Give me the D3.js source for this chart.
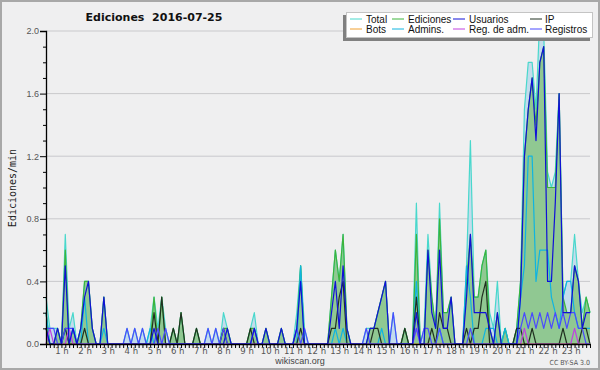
<!DOCTYPE html>
<html>
<head>
<meta charset="utf-8">
<script src="https://cdn.jsdelivr.net/npm/d3@7"></script>
<style>
  body { margin: 0; background: #fff; }
  svg { display: block; }
  .tick text { fill: #555; }
</style>
</head>
<body>
<div></div>
<script>
const width = 600, height = 370;

// 10-minute buckets from 00:20 to 23:50 (edits per minute)
const total = [
  .3,.1,.1,.1,0,.7,.1,.2,0,.1,
  .4,.4,.1,0,0,.3,0,0,0,0,
  0,.1,0,.1,0,.1,0,.1,.3,.1,
  .3,.1,0,.1,0,.2,0,0,0,.1,
  0,0,.1,0,.1,0,.2,.1,0,0,
  0,0,0,.1,.2,0,0,.1,0,0,
  0,.1,0,0,0,.2,.5,.1,0,0,
  0,0,0,0,.3,.6,.4,.7,.1,0,
  0,0,0,.1,.1,.1,.2,.3,.4,0,
  .2,0,0,.1,0,0,.9,0,.1,.7,
  .3,.1,.9,.2,.2,.3,0,0,0,.5,
  1.3,.3,.3,.5,.6,.2,.1,.4,0,.1,
  0,0,.1,.4,1.5,1.8,1.8,1.5,2.1,2.0,
  1.1,1.0,1.1,1.6,.3,.4,.4,.7,.4,.2,
  .3,.2
];
const ediciones = [
  .2,0,0,.1,0,.6,0,.1,0,.1,
  .4,.4,.1,0,0,.3,0,0,0,0,
  0,0,0,0,0,0,0,0,.3,0,
  .3,0,0,.1,0,.2,0,0,0,.1,
  0,0,0,0,0,0,.1,.1,0,0,
  0,0,0,.1,.1,0,0,.1,0,0,
  0,.1,0,0,0,.1,.5,0,0,0,
  0,0,0,0,.3,.6,.4,.7,.1,0,
  0,0,0,0,.1,.1,.2,.3,.4,0,
  0,0,0,.1,0,0,.7,0,0,.6,
  .3,.1,.8,.2,.2,.3,0,0,0,.4,
  .7,.3,.3,.5,.6,.1,0,.2,0,.1,
  0,0,.1,.4,1.2,1.5,1.7,1.4,1.8,1.9,
  1.0,1.0,1.0,1.6,.3,.2,.2,.5,.4,.1,
  .3,.2
];
const usuarios = [
  .1,0,0,.1,0,.5,0,.1,0,.1,
  .3,.4,.1,0,0,.3,0,0,0,0,
  0,0,0,0,0,0,0,0,.1,0,
  0,0,0,0,0,0,0,0,0,0,
  0,0,0,0,0,0,0,.1,0,0,
  0,0,0,0,.1,0,0,.1,0,0,
  0,.1,0,0,0,.1,.4,0,0,0,
  0,0,0,0,.2,.4,.1,.5,.1,0,
  0,0,0,0,.1,.1,.2,.3,.4,0,
  0,0,0,0,0,0,.2,0,0,.6,
  .2,.1,.6,.1,.1,.3,0,0,0,.3,
  .7,.2,.2,.2,.2,.1,0,.2,0,0,
  0,0,0,.3,1.2,1.5,1.7,1.3,1.8,1.9,
  .4,.4,.9,1.6,.2,.2,.2,.5,.4,.1,
  .2,.2
];
const ip = [
  .1,0,0,0,0,.1,0,0,0,0,
  .1,0,0,0,0,0,0,0,0,0,
  0,0,0,0,0,0,0,0,.2,0,
  .3,0,0,.1,0,.2,0,0,0,.1,
  0,0,0,0,0,0,.1,0,0,0,
  0,0,0,.1,0,0,0,0,0,0,
  0,0,0,0,0,0,.1,0,0,0,
  0,0,0,0,.1,.1,.3,.4,0,0,
  0,0,0,0,0,.1,.1,0,0,0,
  0,0,0,.1,0,0,.3,0,0,0,
  .1,0,.2,.1,.1,0,0,0,0,.1,
  0,.1,.1,.3,.4,0,0,0,0,0,
  0,0,.1,.1,0,0,.1,0,0,0,
  0,0,0,0,.1,0,0,0,0,.1,
  .1,0
];
const bots = [
  0,0,0,0,0,0,0,0,0,0, 0,0,0,0,0,0,0,0,0,0,
  0,0,0,0,0,0,0,0,0,0, 0,0,0,0,0,0,0,0,0,0,
  0,0,0,0,0,0,0,0,0,0, 0,0,0,0,0,0,0,0,0,0,
  0,0,0,0,0,0,0,0,0,0, 0,0,0,0,0,0,0,0,0,0,
  0,0,0,0,0,0,0,0,0,0, 0,0,0,0,0,0,0,0,0,0,
  0,0,0,0,0,0,0,0,0,0, 0,0,0,0,0,0,0,0,0,0,
  0,0,0,0,0,0,0,0,0,0, 0,0,0,0,0,0,0,0,0,0,
  0,0
];
const admins = [
  .2,0,0,0,0,.1,0,.1,0,0,
  .3,0,0,0,0,.1,0,0,0,0,
  0,0,0,0,0,0,0,.1,0,0,
  0,0,0,0,0,0,0,0,0,0,
  0,0,0,0,0,0,0,0,0,0,
  0,0,0,0,0,0,0,0,0,0,
  0,0,0,0,0,0,.5,0,0,0,
  0,0,0,0,0,.1,0,.1,0,0,
  0,0,0,0,0,0,0,.1,0,0,
  0,0,0,0,0,0,.4,0,0,0,
  0,0,.1,0,0,0,0,0,0,.5,
  .3,0,0,0,.1,.1,.1,0,0,.1,
  0,0,0,.3,.5,1.2,1.2,.4,.6,.6,
  .6,.3,.2,.1,.3,.4,.4,.2,.1,.1,
  .1,.1
];
const regAdm = [
  0,.1,0,0,0,0,.1,0,0,0, 0,0,0,0,0,0,0,0,0,0,
  0,0,0,0,0,0,0,0,0,0, 0,0,0,0,0,0,0,0,0,0,
  0,0,0,0,0,0,0,0,0,0, 0,0,0,0,0,0,0,0,0,0,
  0,0,0,0,0,0,0,0,0,0, 0,0,0,0,0,0,0,0,0,0,
  0,0,0,0,0,0,0,0,0,0, 0,0,0,0,0,0,.1,0,0,0,
  0,0,0,0,0,0,0,0,0,0, 0,0,0,0,0,0,0,0,0,0,
  0,0,0,0,.1,0,0,0,0,0, 0,0,0,0,0,0,0,.1,0,0,
  0,0
];
const registros = [
  .1,.1,.1,0,0,.1,.1,.1,0,0,
  0,0,0,0,0,0,0,0,0,0,
  0,.1,0,.1,0,.1,0,0,0,.1,
  0,.1,0,0,0,0,0,0,0,0,
  0,0,.1,0,.1,0,.1,0,0,0,
  0,0,0,0,.1,0,0,0,0,0,
  0,0,0,0,0,.1,0,.1,0,0,
  0,0,0,0,0,0,0,0,0,0,
  0,0,0,.1,0,0,0,0,0,0,
  .2,0,0,0,0,0,.1,0,.1,.1,
  0,0,.1,0,0,0,0,0,0,0,
  .1,0,0,0,0,0,0,0,0,0,
  0,0,0,.1,.2,.1,.2,.1,.2,.1,
  .2,.1,.2,.1,.2,.1,.2,.2,.1,.1,
  0,0
];

const hourLabels = ["1 h","2 h","3 h","4 h","5 h","6 h","7 h","8 h","9 h","10 h","11 h","12 h",
  "13 h","14 h","15 h","16 h","17 h","18 h","19 h","20 h","21 h","22 h","23 h"];
const hourIndex = [4,10,16,22,28,34,40,46,52,58,64,70,76,82,88,94,100,106,112,118,124,130,136];
const yMajor = [0, 0.4, 0.8, 1.2, 1.6, 2.0];
const yMinor = [0.1,0.2,0.3,0.5,0.6,0.7,0.9,1.0,1.1,1.3,1.4,1.5,1.7,1.8,1.9];

const series = [
  { name: "Total",        data: total,     color: "#48d8cc" },
  { name: "Ediciones",    data: ediciones, color: "#3cb43c" },
  { name: "Usuarios",     data: usuarios,  color: "#1010d8" },
  { name: "IP",           data: ip,        color: "#203020" },
  { name: "Bots",         data: bots,      color: "#f0a030" },
  { name: "Admins.",      data: admins,    color: "#10b4e0" },
  { name: "Reg. de adm.", data: regAdm,    color: "#c040e0" },
  { name: "Registros",    data: registros, color: "#4a4aff" }
];

const x = d3.scaleLinear().domain([0, total.length - 1]).range([46, 590]);
const y = d3.scaleLinear().domain([0, 2]).range([344, 31]);

let svg = d3.select("div")
    .append("svg")
    .attr("width", width)
    .attr("height", height);

svg.append("rect")
    .attr("x", 1).attr("y", 1)
    .attr("width", width - 2).attr("height", height - 2)
    .attr("fill", "#efeff0")
    .attr("stroke", "#a8a8a8")
    .attr("stroke-width", 2);

// grid
svg.append("g")
    .selectAll("line")
    .data(yMajor.filter(d => d > 0))
    .join("line")
    .attr("x1", 46).attr("x2", 590)
    .attr("y1", d => y(d)).attr("y2", d => y(d))
    .attr("stroke", "#c9c9cc");

// areas
const area = d3.area()
    .x((d, i) => x(i))
    .y0(y(0))
    .y1(d => y(d));

svg.append("path").datum(total)
    .attr("d", area)
    .attr("fill", "#c3dcec");
svg.append("path").datum(ediciones)
    .attr("d", area)
    .attr("fill", "#90c892");

// lines
const line = d3.line()
    .x((d, i) => x(i))
    .y(d => y(d));

const drawOrder = ["Total", "Ediciones", "Bots", "Admins.", "IP", "Reg. de adm.", "Registros", "Usuarios"];
drawOrder.forEach(n => {
    let s = series.find(s => s.name == n);
    svg.append("path").datum(s.data)
        .attr("d", line)
        .attr("fill", "none")
        .attr("stroke", s.color)
        .attr("stroke-width", 1.2)
        .attr("stroke-linejoin", "round");
});

// y axis
svg.append("g")
    .attr("transform", "translate(46,0)")
    .call(d3.axisLeft(y).tickValues(yMajor).tickFormat(d3.format(".1f")).tickSize(6).tickPadding(1))
    .call(g => g.select(".domain").attr("stroke", "#000").attr("stroke-width", 1.3))
    .call(g => g.selectAll(".tick line").attr("stroke", "#000"))
    .call(g => g.selectAll(".tick text").attr("font-family", "Liberation Sans, sans-serif").attr("font-size", 9));

svg.append("g")
    .attr("transform", "translate(46,0)")
    .call(d3.axisLeft(y).tickValues(yMinor).tickFormat("").tickSize(3))
    .call(g => g.select(".domain").remove())
    .call(g => g.selectAll(".tick line").attr("stroke", "#000"));

// x axis
svg.append("g")
    .attr("transform", "translate(0,344)")
    .call(d3.axisBottom(x).tickValues(d3.range(total.length)).tickFormat("").tickSize(4).tickSizeOuter(0))
    .call(g => g.select(".domain").attr("stroke", "#000").attr("stroke-width", 1.3))
    .call(g => g.selectAll(".tick line").attr("stroke", "#000"));

svg.append("g")
    .attr("transform", "translate(0,344)")
    .call(d3.axisBottom(x).tickValues(hourIndex).tickFormat((d, i) => hourLabels[i]).tickSize(0).tickPadding(3))
    .call(g => g.select(".domain").remove())
    .call(g => g.selectAll(".tick text")
        .attr("fill", "#222")
        .attr("font-family", "Liberation Sans Narrow, DejaVu Sans Condensed, sans-serif")
        .attr("font-size", 9.5));

// texts
svg.append("text")
    .attr("x", 154).attr("y", 20.5)
    .attr("text-anchor", "middle")
    .attr("font-family", "DejaVu Sans, sans-serif")
    .attr("font-weight", "bold")
    .attr("font-size", 11)
    .attr("fill", "#111")
    .style("white-space", "pre")
    .text("Ediciones  2016-07-25");

svg.append("text")
    .attr("transform", "translate(16,188) rotate(-90)")
    .attr("text-anchor", "middle")
    .attr("font-family", "DejaVu Sans Mono, monospace")
    .attr("font-size", 10)
    .attr("fill", "#222")
    .text("Ediciones/min");

svg.append("text")
    .attr("x", 300).attr("y", 364)
    .attr("text-anchor", "middle")
    .attr("font-family", "Liberation Sans, sans-serif")
    .attr("font-size", 9)
    .attr("fill", "#444")
    .text("wikiscan.org");

svg.append("text")
    .attr("x", 590).attr("y", 365)
    .attr("text-anchor", "end")
    .attr("font-family", "Liberation Sans Narrow, DejaVu Sans Condensed, sans-serif")
    .attr("font-size", 7)
    .attr("fill", "#555")
    .text("CC BY-SA 3.0");

// legend
const legX = [350, 392, 453, 530];
const legY = [19, 29];
let leg = svg.append("g");
leg.append("rect")
    .attr("x", 343).attr("y", 15).attr("width", 247).attr("height", 26)
    .attr("fill", "#808080");
leg.append("rect")
    .attr("x", 346.5).attr("y", 12.5).attr("width", 246).attr("height", 25)
    .attr("fill", "#fff")
    .attr("stroke", "#c4c4c4");

let items = leg.selectAll("g.item")
    .data(series)
    .join("g")
    .attr("class", "item")
    .attr("transform", (d, i) => `translate(${legX[i % 4]},${legY[Math.floor(i / 4)]})`);

items.append("line")
    .attr("x1", 0).attr("x2", 12)
    .attr("y1", 0).attr("y2", 0)
    .attr("stroke", d => d.color)
    .attr("stroke-width", 1);

items.append("text")
    .attr("x", (d, i) => [16, 16, 16, 15][i % 4])
    .attr("y", 3.5)
    .attr("font-family", "Liberation Sans, sans-serif")
    .attr("font-size", 10)
    .attr("fill", "#111")
    .text(d => d.name);
</script>
</body>
</html>
